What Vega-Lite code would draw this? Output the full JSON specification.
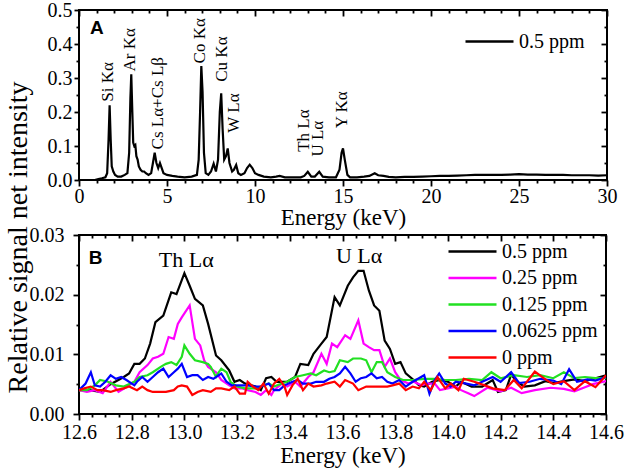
{
  "$schema": "https://vega.github.io/schema/vega-lite/v6.json",
  "padding": {"left": 2, "top": -1, "right": 5, "bottom": 5},
  "background": "white",
  "datasets": {
    "spec": [
      {"E":0.9,"v":0.0},{"E":1.1,"v":0.003},{"E":1.3,"v":0.005},{"E":1.5,"v":0.008},{"E":1.6,"v":0.02},{"E":1.68,"v":0.12},{"E":1.74,"v":0.22},{"E":1.8,"v":0.12},{"E":1.86,"v":0.04},{"E":1.95,"v":0.025},{"E":2.05,"v":0.015},{"E":2.2,"v":0.01},{"E":2.4,"v":0.01},{"E":2.6,"v":0.015},{"E":2.75,"v":0.02},{"E":2.85,"v":0.08},{"E":2.92,"v":0.24},{"E":2.97,"v":0.311},{"E":3.03,"v":0.2},{"E":3.08,"v":0.11},{"E":3.14,"v":0.1},{"E":3.2,"v":0.103},{"E":3.26,"v":0.07},{"E":3.33,"v":0.06},{"E":3.4,"v":0.04},{"E":3.5,"v":0.03},{"E":3.6,"v":0.025},{"E":3.7,"v":0.025},{"E":3.8,"v":0.02},{"E":3.95,"v":0.015},{"E":4.1,"v":0.02},{"E":4.2,"v":0.05},{"E":4.3,"v":0.08},{"E":4.4,"v":0.05},{"E":4.5,"v":0.035},{"E":4.6,"v":0.05},{"E":4.7,"v":0.035},{"E":4.8,"v":0.02},{"E":5.0,"v":0.015},{"E":5.3,"v":0.012},{"E":5.6,"v":0.01},{"E":6.0,"v":0.008},{"E":6.4,"v":0.01},{"E":6.7,"v":0.015},{"E":6.8,"v":0.06},{"E":6.88,"v":0.2},{"E":6.95,"v":0.335},{"E":7.02,"v":0.26},{"E":7.1,"v":0.08},{"E":7.2,"v":0.02},{"E":7.35,"v":0.015},{"E":7.5,"v":0.025},{"E":7.65,"v":0.048},{"E":7.78,"v":0.025},{"E":7.9,"v":0.06},{"E":8.0,"v":0.2},{"E":8.08,"v":0.255},{"E":8.16,"v":0.15},{"E":8.25,"v":0.06},{"E":8.35,"v":0.07},{"E":8.45,"v":0.093},{"E":8.55,"v":0.05},{"E":8.7,"v":0.025},{"E":8.8,"v":0.03},{"E":8.93,"v":0.044},{"E":9.05,"v":0.02},{"E":9.2,"v":0.015},{"E":9.4,"v":0.02},{"E":9.55,"v":0.035},{"E":9.7,"v":0.045},{"E":9.85,"v":0.035},{"E":10.0,"v":0.02},{"E":10.2,"v":0.015},{"E":10.5,"v":0.01},{"E":10.9,"v":0.008},{"E":11.2,"v":0.01},{"E":11.4,"v":0.012},{"E":11.7,"v":0.008},{"E":12.2,"v":0.008},{"E":12.6,"v":0.008},{"E":12.8,"v":0.012},{"E":13.0,"v":0.024},{"E":13.2,"v":0.01},{"E":13.4,"v":0.01},{"E":13.65,"v":0.024},{"E":13.85,"v":0.01},{"E":14.2,"v":0.008},{"E":14.6,"v":0.008},{"E":14.8,"v":0.03},{"E":14.92,"v":0.08},{"E":15.0,"v":0.093},{"E":15.1,"v":0.06},{"E":15.25,"v":0.015},{"E":15.4,"v":0.008},{"E":15.8,"v":0.008},{"E":16.2,"v":0.01},{"E":16.5,"v":0.012},{"E":16.8,"v":0.02},{"E":17.0,"v":0.014},{"E":17.3,"v":0.012},{"E":17.6,"v":0.009},{"E":18.0,"v":0.008},{"E":18.5,"v":0.009},{"E":19.0,"v":0.009},{"E":19.5,"v":0.01},{"E":20.0,"v":0.011},{"E":20.5,"v":0.012},{"E":21.0,"v":0.012},{"E":21.5,"v":0.013},{"E":22.0,"v":0.014},{"E":22.5,"v":0.015},{"E":23.0,"v":0.015},{"E":23.5,"v":0.015},{"E":24.0,"v":0.015},{"E":24.5,"v":0.016},{"E":25.0,"v":0.017},{"E":25.5,"v":0.016},{"E":26.0,"v":0.016},{"E":26.5,"v":0.015},{"E":27.0,"v":0.015},{"E":27.5,"v":0.015},{"E":28.0,"v":0.014},{"E":28.5,"v":0.014},{"E":29.0,"v":0.014},{"E":29.5,"v":0.013},{"E":30.0,"v":0.014}
    ],
    "peaks": [
      {"E":1.66,"v":0.23,"t":"Si Kα"},
      {"E":2.88,"v":0.319,"t":"Ar Kα"},
      {"E":4.49,"v":0.09,"t":"Cs Lα+Cs Lβ"},
      {"E":6.86,"v":0.343,"t":"Co Kα"},
      {"E":8.11,"v":0.289,"t":"Cu Kα"},
      {"E":8.83,"v":0.139,"t":"W Lα"},
      {"E":12.78,"v":0.083,"t":"Th Lα"},
      {"E":13.6,"v":0.069,"t":"U Lα"},
      {"E":14.92,"v":0.152,"t":"Y Kα"}
    ],
    "low": [
      {"c":"0.5 ppm","E":12.6,"v":0.004},{"c":"0.5 ppm","E":12.64,"v":0.004},{"c":"0.5 ppm","E":12.68,"v":0.0037},{"c":"0.5 ppm","E":12.72,"v":0.005},{"c":"0.5 ppm","E":12.77,"v":0.0062},{"c":"0.5 ppm","E":12.79,"v":0.0068},{"c":"0.5 ppm","E":12.81,"v":0.0084},{"c":"0.5 ppm","E":12.83,"v":0.0084},{"c":"0.5 ppm","E":12.85,"v":0.0093},{"c":"0.5 ppm","E":12.87,"v":0.0118},{"c":"0.5 ppm","E":12.89,"v":0.0154},{"c":"0.5 ppm","E":12.92,"v":0.0165},{"c":"0.5 ppm","E":12.95,"v":0.0204},{"c":"0.5 ppm","E":12.97,"v":0.0201},{"c":"0.5 ppm","E":13.0,"v":0.0236},{"c":"0.5 ppm","E":13.02,"v":0.0215},{"c":"0.5 ppm","E":13.04,"v":0.0193},{"c":"0.5 ppm","E":13.07,"v":0.0182},{"c":"0.5 ppm","E":13.09,"v":0.0151},{"c":"0.5 ppm","E":13.12,"v":0.0098},{"c":"0.5 ppm","E":13.14,"v":0.009},{"c":"0.5 ppm","E":13.17,"v":0.0073},{"c":"0.5 ppm","E":13.19,"v":0.0054},{"c":"0.5 ppm","E":13.21,"v":0.0057},{"c":"0.5 ppm","E":13.23,"v":0.0051},{"c":"0.5 ppm","E":13.27,"v":0.0046},{"c":"0.5 ppm","E":13.29,"v":0.004},{"c":"0.5 ppm","E":13.31,"v":0.006},{"c":"0.5 ppm","E":13.33,"v":0.0062},{"c":"0.5 ppm","E":13.35,"v":0.0054},{"c":"0.5 ppm","E":13.37,"v":0.0054},{"c":"0.5 ppm","E":13.39,"v":0.0054},{"c":"0.5 ppm","E":13.42,"v":0.0062},{"c":"0.5 ppm","E":13.44,"v":0.0084},{"c":"0.5 ppm","E":13.47,"v":0.0082},{"c":"0.5 ppm","E":13.49,"v":0.0101},{"c":"0.5 ppm","E":13.52,"v":0.0118},{"c":"0.5 ppm","E":13.54,"v":0.0129},{"c":"0.5 ppm","E":13.57,"v":0.0196},{"c":"0.5 ppm","E":13.59,"v":0.0182},{"c":"0.5 ppm","E":13.62,"v":0.0215},{"c":"0.5 ppm","E":13.64,"v":0.0229},{"c":"0.5 ppm","E":13.66,"v":0.024},{"c":"0.5 ppm","E":13.68,"v":0.024},{"c":"0.5 ppm","E":13.7,"v":0.0207},{"c":"0.5 ppm","E":13.72,"v":0.0182},{"c":"0.5 ppm","E":13.74,"v":0.0173},{"c":"0.5 ppm","E":13.76,"v":0.0123},{"c":"0.5 ppm","E":13.78,"v":0.0109},{"c":"0.5 ppm","E":13.8,"v":0.0084},{"c":"0.5 ppm","E":13.82,"v":0.0087},{"c":"0.5 ppm","E":13.84,"v":0.0068},{"c":"0.5 ppm","E":13.87,"v":0.0057},{"c":"0.5 ppm","E":13.89,"v":0.0048},{"c":"0.5 ppm","E":13.91,"v":0.0046},{"c":"0.5 ppm","E":13.94,"v":0.0054},{"c":"0.5 ppm","E":13.97,"v":0.0057},{"c":"0.5 ppm","E":14.0,"v":0.0054},{"c":"0.5 ppm","E":14.03,"v":0.0046},{"c":"0.5 ppm","E":14.05,"v":0.0054},{"c":"0.5 ppm","E":14.09,"v":0.0046},{"c":"0.5 ppm","E":14.13,"v":0.0046},{"c":"0.5 ppm","E":14.17,"v":0.0057},{"c":"0.5 ppm","E":14.19,"v":0.0037},{"c":"0.5 ppm","E":14.22,"v":0.004},{"c":"0.5 ppm","E":14.24,"v":0.0066},{"c":"0.5 ppm","E":14.26,"v":0.0055},{"c":"0.5 ppm","E":14.29,"v":0.0046},{"c":"0.5 ppm","E":14.33,"v":0.0048},{"c":"0.5 ppm","E":14.37,"v":0.0055},{"c":"0.5 ppm","E":14.4,"v":0.0052},{"c":"0.5 ppm","E":14.44,"v":0.0055},{"c":"0.5 ppm","E":14.48,"v":0.0058},{"c":"0.5 ppm","E":14.52,"v":0.0055},{"c":"0.5 ppm","E":14.56,"v":0.006},{"c":"0.5 ppm","E":14.6,"v":0.0065},
      {"c":"0.25 ppm","E":12.6,"v":0.004},{"c":"0.25 ppm","E":12.63,"v":0.0037},{"c":"0.25 ppm","E":12.66,"v":0.004},{"c":"0.25 ppm","E":12.69,"v":0.0035},{"c":"0.25 ppm","E":12.72,"v":0.0054},{"c":"0.25 ppm","E":12.75,"v":0.0037},{"c":"0.25 ppm","E":12.78,"v":0.0045},{"c":"0.25 ppm","E":12.81,"v":0.0054},{"c":"0.25 ppm","E":12.83,"v":0.007},{"c":"0.25 ppm","E":12.86,"v":0.0082},{"c":"0.25 ppm","E":12.88,"v":0.0093},{"c":"0.25 ppm","E":12.9,"v":0.0096},{"c":"0.25 ppm","E":12.92,"v":0.0101},{"c":"0.25 ppm","E":12.94,"v":0.0129},{"c":"0.25 ppm","E":12.96,"v":0.0126},{"c":"0.25 ppm","E":12.975,"v":0.0151},{"c":"0.25 ppm","E":12.99,"v":0.0162},{"c":"0.25 ppm","E":13.02,"v":0.0182},{"c":"0.25 ppm","E":13.04,"v":0.0126},{"c":"0.25 ppm","E":13.06,"v":0.0115},{"c":"0.25 ppm","E":13.075,"v":0.009},{"c":"0.25 ppm","E":13.09,"v":0.0079},{"c":"0.25 ppm","E":13.12,"v":0.007},{"c":"0.25 ppm","E":13.14,"v":0.0057},{"c":"0.25 ppm","E":13.17,"v":0.0048},{"c":"0.25 ppm","E":13.19,"v":0.0043},{"c":"0.25 ppm","E":13.22,"v":0.0043},{"c":"0.25 ppm","E":13.24,"v":0.004},{"c":"0.25 ppm","E":13.27,"v":0.0037},{"c":"0.25 ppm","E":13.29,"v":0.0032},{"c":"0.25 ppm","E":13.31,"v":0.004},{"c":"0.25 ppm","E":13.33,"v":0.0032},{"c":"0.25 ppm","E":13.34,"v":0.004},{"c":"0.25 ppm","E":13.37,"v":0.0051},{"c":"0.25 ppm","E":13.39,"v":0.0046},{"c":"0.25 ppm","E":13.42,"v":0.0054},{"c":"0.25 ppm","E":13.44,"v":0.0046},{"c":"0.25 ppm","E":13.47,"v":0.0062},{"c":"0.25 ppm","E":13.49,"v":0.007},{"c":"0.25 ppm","E":13.52,"v":0.0101},{"c":"0.25 ppm","E":13.54,"v":0.0084},{"c":"0.25 ppm","E":13.56,"v":0.0118},{"c":"0.25 ppm","E":13.58,"v":0.0112},{"c":"0.25 ppm","E":13.61,"v":0.0132},{"c":"0.25 ppm","E":13.63,"v":0.0126},{"c":"0.25 ppm","E":13.66,"v":0.0157},{"c":"0.25 ppm","E":13.68,"v":0.0118},{"c":"0.25 ppm","E":13.7,"v":0.0112},{"c":"0.25 ppm","E":13.72,"v":0.0107},{"c":"0.25 ppm","E":13.74,"v":0.0107},{"c":"0.25 ppm","E":13.76,"v":0.0079},{"c":"0.25 ppm","E":13.78,"v":0.0093},{"c":"0.25 ppm","E":13.8,"v":0.007},{"c":"0.25 ppm","E":13.82,"v":0.0057},{"c":"0.25 ppm","E":13.85,"v":0.0051},{"c":"0.25 ppm","E":13.87,"v":0.0054},{"c":"0.25 ppm","E":13.9,"v":0.0048},{"c":"0.25 ppm","E":13.92,"v":0.0051},{"c":"0.25 ppm","E":13.95,"v":0.0051},{"c":"0.25 ppm","E":13.97,"v":0.004},{"c":"0.25 ppm","E":14.0,"v":0.0043},{"c":"0.25 ppm","E":14.03,"v":0.0046},{"c":"0.25 ppm","E":14.05,"v":0.004},{"c":"0.25 ppm","E":14.075,"v":0.0035},{"c":"0.25 ppm","E":14.1,"v":0.003},{"c":"0.25 ppm","E":14.15,"v":0.0044},{"c":"0.25 ppm","E":14.2,"v":0.0038},{"c":"0.25 ppm","E":14.24,"v":0.0044},{"c":"0.25 ppm","E":14.28,"v":0.0035},{"c":"0.25 ppm","E":14.33,"v":0.004},{"c":"0.25 ppm","E":14.39,"v":0.0044},{"c":"0.25 ppm","E":14.44,"v":0.0042},{"c":"0.25 ppm","E":14.48,"v":0.0038},{"c":"0.25 ppm","E":14.52,"v":0.0045},{"c":"0.25 ppm","E":14.55,"v":0.005},{"c":"0.25 ppm","E":14.6,"v":0.0055},
      {"c":"0.125 ppm","E":12.6,"v":0.004},{"c":"0.125 ppm","E":12.63,"v":0.004},{"c":"0.125 ppm","E":12.66,"v":0.0048},{"c":"0.125 ppm","E":12.68,"v":0.0057},{"c":"0.125 ppm","E":12.71,"v":0.0054},{"c":"0.125 ppm","E":12.74,"v":0.0048},{"c":"0.125 ppm","E":12.77,"v":0.0046},{"c":"0.125 ppm","E":12.81,"v":0.0054},{"c":"0.125 ppm","E":12.83,"v":0.0062},{"c":"0.125 ppm","E":12.86,"v":0.0065},{"c":"0.125 ppm","E":12.88,"v":0.007},{"c":"0.125 ppm","E":12.91,"v":0.0079},{"c":"0.125 ppm","E":12.93,"v":0.0084},{"c":"0.125 ppm","E":12.95,"v":0.0087},{"c":"0.125 ppm","E":12.97,"v":0.0082},{"c":"0.125 ppm","E":12.99,"v":0.0096},{"c":"0.125 ppm","E":13.0,"v":0.0115},{"c":"0.125 ppm","E":13.02,"v":0.0101},{"c":"0.125 ppm","E":13.04,"v":0.009},{"c":"0.125 ppm","E":13.07,"v":0.0087},{"c":"0.125 ppm","E":13.09,"v":0.0084},{"c":"0.125 ppm","E":13.1,"v":0.0079},{"c":"0.125 ppm","E":13.12,"v":0.0062},{"c":"0.125 ppm","E":13.13,"v":0.007},{"c":"0.125 ppm","E":13.14,"v":0.0076},{"c":"0.125 ppm","E":13.16,"v":0.007},{"c":"0.125 ppm","E":13.175,"v":0.0054},{"c":"0.125 ppm","E":13.2,"v":0.0046},{"c":"0.125 ppm","E":13.23,"v":0.0043},{"c":"0.125 ppm","E":13.27,"v":0.0043},{"c":"0.125 ppm","E":13.29,"v":0.0046},{"c":"0.125 ppm","E":13.32,"v":0.0051},{"c":"0.125 ppm","E":13.34,"v":0.0046},{"c":"0.125 ppm","E":13.37,"v":0.0051},{"c":"0.125 ppm","E":13.39,"v":0.0054},{"c":"0.125 ppm","E":13.42,"v":0.0062},{"c":"0.125 ppm","E":13.45,"v":0.0065},{"c":"0.125 ppm","E":13.48,"v":0.0068},{"c":"0.125 ppm","E":13.5,"v":0.0065},{"c":"0.125 ppm","E":13.53,"v":0.0073},{"c":"0.125 ppm","E":13.55,"v":0.007},{"c":"0.125 ppm","E":13.57,"v":0.0072},{"c":"0.125 ppm","E":13.59,"v":0.009},{"c":"0.125 ppm","E":13.62,"v":0.0087},{"c":"0.125 ppm","E":13.64,"v":0.0093},{"c":"0.125 ppm","E":13.67,"v":0.0093},{"c":"0.125 ppm","E":13.69,"v":0.009},{"c":"0.125 ppm","E":13.71,"v":0.007},{"c":"0.125 ppm","E":13.73,"v":0.0087},{"c":"0.125 ppm","E":13.75,"v":0.0087},{"c":"0.125 ppm","E":13.77,"v":0.007},{"c":"0.125 ppm","E":13.8,"v":0.0062},{"c":"0.125 ppm","E":13.83,"v":0.0057},{"c":"0.125 ppm","E":13.87,"v":0.0057},{"c":"0.125 ppm","E":13.91,"v":0.0059},{"c":"0.125 ppm","E":13.95,"v":0.0059},{"c":"0.125 ppm","E":13.99,"v":0.0057},{"c":"0.125 ppm","E":14.03,"v":0.0057},{"c":"0.125 ppm","E":14.08,"v":0.0059},{"c":"0.125 ppm","E":14.13,"v":0.0057},{"c":"0.125 ppm","E":14.165,"v":0.007},{"c":"0.125 ppm","E":14.2,"v":0.006},{"c":"0.125 ppm","E":14.25,"v":0.0065},{"c":"0.125 ppm","E":14.3,"v":0.0062},{"c":"0.125 ppm","E":14.35,"v":0.0065},{"c":"0.125 ppm","E":14.4,"v":0.006},{"c":"0.125 ppm","E":14.44,"v":0.007},{"c":"0.125 ppm","E":14.48,"v":0.006},{"c":"0.125 ppm","E":14.52,"v":0.0062},{"c":"0.125 ppm","E":14.56,"v":0.006},{"c":"0.125 ppm","E":14.6,"v":0.006},
      {"c":"0.0625 ppm","E":12.6,"v":0.004},{"c":"0.0625 ppm","E":12.625,"v":0.0051},{"c":"0.0625 ppm","E":12.645,"v":0.007},{"c":"0.0625 ppm","E":12.66,"v":0.0048},{"c":"0.0625 ppm","E":12.68,"v":0.0046},{"c":"0.0625 ppm","E":12.7,"v":0.0054},{"c":"0.0625 ppm","E":12.72,"v":0.0065},{"c":"0.0625 ppm","E":12.74,"v":0.0059},{"c":"0.0625 ppm","E":12.76,"v":0.0062},{"c":"0.0625 ppm","E":12.78,"v":0.0057},{"c":"0.0625 ppm","E":12.81,"v":0.0048},{"c":"0.0625 ppm","E":12.82,"v":0.0054},{"c":"0.0625 ppm","E":12.84,"v":0.0062},{"c":"0.0625 ppm","E":12.86,"v":0.0054},{"c":"0.0625 ppm","E":12.88,"v":0.0062},{"c":"0.0625 ppm","E":12.9,"v":0.007},{"c":"0.0625 ppm","E":12.92,"v":0.0076},{"c":"0.0625 ppm","E":12.94,"v":0.0062},{"c":"0.0625 ppm","E":12.96,"v":0.007},{"c":"0.0625 ppm","E":12.975,"v":0.0076},{"c":"0.0625 ppm","E":12.99,"v":0.0084},{"c":"0.0625 ppm","E":13.01,"v":0.0062},{"c":"0.0625 ppm","E":13.03,"v":0.0065},{"c":"0.0625 ppm","E":13.05,"v":0.0065},{"c":"0.0625 ppm","E":13.07,"v":0.0057},{"c":"0.0625 ppm","E":13.09,"v":0.0062},{"c":"0.0625 ppm","E":13.11,"v":0.0059},{"c":"0.0625 ppm","E":13.13,"v":0.0065},{"c":"0.0625 ppm","E":13.14,"v":0.0068},{"c":"0.0625 ppm","E":13.16,"v":0.0054},{"c":"0.0625 ppm","E":13.18,"v":0.0048},{"c":"0.0625 ppm","E":13.21,"v":0.0048},{"c":"0.0625 ppm","E":13.24,"v":0.0048},{"c":"0.0625 ppm","E":13.27,"v":0.0046},{"c":"0.0625 ppm","E":13.29,"v":0.0046},{"c":"0.0625 ppm","E":13.32,"v":0.0051},{"c":"0.0625 ppm","E":13.34,"v":0.004},{"c":"0.0625 ppm","E":13.36,"v":0.004},{"c":"0.0625 ppm","E":13.38,"v":0.0048},{"c":"0.0625 ppm","E":13.41,"v":0.0054},{"c":"0.0625 ppm","E":13.43,"v":0.0057},{"c":"0.0625 ppm","E":13.45,"v":0.0051},{"c":"0.0625 ppm","E":13.48,"v":0.0051},{"c":"0.0625 ppm","E":13.5,"v":0.0054},{"c":"0.0625 ppm","E":13.53,"v":0.0054},{"c":"0.0625 ppm","E":13.55,"v":0.0059},{"c":"0.0625 ppm","E":13.57,"v":0.0062},{"c":"0.0625 ppm","E":13.59,"v":0.0068},{"c":"0.0625 ppm","E":13.61,"v":0.0079},{"c":"0.0625 ppm","E":13.63,"v":0.0068},{"c":"0.0625 ppm","E":13.65,"v":0.0054},{"c":"0.0625 ppm","E":13.67,"v":0.006},{"c":"0.0625 ppm","E":13.69,"v":0.0062},{"c":"0.0625 ppm","E":13.71,"v":0.0068},{"c":"0.0625 ppm","E":13.73,"v":0.006},{"c":"0.0625 ppm","E":13.75,"v":0.0062},{"c":"0.0625 ppm","E":13.77,"v":0.0054},{"c":"0.0625 ppm","E":13.79,"v":0.0051},{"c":"0.0625 ppm","E":13.815,"v":0.0057},{"c":"0.0625 ppm","E":13.84,"v":0.0046},{"c":"0.0625 ppm","E":13.866,"v":0.0054},{"c":"0.0625 ppm","E":13.89,"v":0.006},{"c":"0.0625 ppm","E":13.91,"v":0.0065},{"c":"0.0625 ppm","E":13.93,"v":0.0034},{"c":"0.0625 ppm","E":13.95,"v":0.0057},{"c":"0.0625 ppm","E":13.967,"v":0.0068},{"c":"0.0625 ppm","E":13.99,"v":0.0051},{"c":"0.0625 ppm","E":14.01,"v":0.0046},{"c":"0.0625 ppm","E":14.03,"v":0.0054},{"c":"0.0625 ppm","E":14.07,"v":0.0051},{"c":"0.0625 ppm","E":14.1,"v":0.0048},{"c":"0.0625 ppm","E":14.13,"v":0.0054},{"c":"0.0625 ppm","E":14.17,"v":0.0062},{"c":"0.0625 ppm","E":14.2,"v":0.0054},{"c":"0.0625 ppm","E":14.24,"v":0.007},{"c":"0.0625 ppm","E":14.27,"v":0.0052},{"c":"0.0625 ppm","E":14.31,"v":0.0054},{"c":"0.0625 ppm","E":14.35,"v":0.0059},{"c":"0.0625 ppm","E":14.4,"v":0.0056},{"c":"0.0625 ppm","E":14.43,"v":0.005},{"c":"0.0625 ppm","E":14.46,"v":0.0075},{"c":"0.0625 ppm","E":14.49,"v":0.0054},{"c":"0.0625 ppm","E":14.53,"v":0.0058},{"c":"0.0625 ppm","E":14.56,"v":0.0056},{"c":"0.0625 ppm","E":14.6,"v":0.0062},
      {"c":"0 ppm","E":12.6,"v":0.004},{"c":"0 ppm","E":12.62,"v":0.0043},{"c":"0 ppm","E":12.645,"v":0.0046},{"c":"0 ppm","E":12.67,"v":0.004},{"c":"0 ppm","E":12.69,"v":0.004},{"c":"0 ppm","E":12.72,"v":0.0037},{"c":"0 ppm","E":12.74,"v":0.004},{"c":"0 ppm","E":12.77,"v":0.0043},{"c":"0 ppm","E":12.79,"v":0.0046},{"c":"0 ppm","E":12.82,"v":0.004},{"c":"0 ppm","E":12.84,"v":0.0046},{"c":"0 ppm","E":12.86,"v":0.004},{"c":"0 ppm","E":12.88,"v":0.0037},{"c":"0 ppm","E":12.91,"v":0.0037},{"c":"0 ppm","E":12.93,"v":0.0037},{"c":"0 ppm","E":12.96,"v":0.004},{"c":"0 ppm","E":12.975,"v":0.0046},{"c":"0 ppm","E":12.99,"v":0.0048},{"c":"0 ppm","E":13.01,"v":0.0046},{"c":"0 ppm","E":13.03,"v":0.0032},{"c":"0 ppm","E":13.05,"v":0.0037},{"c":"0 ppm","E":13.07,"v":0.004},{"c":"0 ppm","E":13.1,"v":0.0037},{"c":"0 ppm","E":13.12,"v":0.0043},{"c":"0 ppm","E":13.14,"v":0.0043},{"c":"0 ppm","E":13.17,"v":0.004},{"c":"0 ppm","E":13.19,"v":0.0046},{"c":"0 ppm","E":13.21,"v":0.0034},{"c":"0 ppm","E":13.23,"v":0.0034},{"c":"0 ppm","E":13.24,"v":0.0054},{"c":"0 ppm","E":13.26,"v":0.0046},{"c":"0 ppm","E":13.28,"v":0.004},{"c":"0 ppm","E":13.3,"v":0.0051},{"c":"0 ppm","E":13.32,"v":0.0034},{"c":"0 ppm","E":13.34,"v":0.0051},{"c":"0 ppm","E":13.36,"v":0.0059},{"c":"0 ppm","E":13.38,"v":0.0046},{"c":"0 ppm","E":13.39,"v":0.0032},{"c":"0 ppm","E":13.41,"v":0.0048},{"c":"0 ppm","E":13.43,"v":0.0059},{"c":"0 ppm","E":13.45,"v":0.004},{"c":"0 ppm","E":13.47,"v":0.0051},{"c":"0 ppm","E":13.49,"v":0.0046},{"c":"0 ppm","E":13.52,"v":0.0048},{"c":"0 ppm","E":13.54,"v":0.0051},{"c":"0 ppm","E":13.57,"v":0.0054},{"c":"0 ppm","E":13.59,"v":0.0046},{"c":"0 ppm","E":13.61,"v":0.0057},{"c":"0 ppm","E":13.64,"v":0.0051},{"c":"0 ppm","E":13.66,"v":0.004},{"c":"0 ppm","E":13.69,"v":0.0046},{"c":"0 ppm","E":13.72,"v":0.0046},{"c":"0 ppm","E":13.74,"v":0.0046},{"c":"0 ppm","E":13.77,"v":0.0046},{"c":"0 ppm","E":13.79,"v":0.0048},{"c":"0 ppm","E":13.815,"v":0.0051},{"c":"0 ppm","E":13.84,"v":0.004},{"c":"0 ppm","E":13.866,"v":0.0046},{"c":"0 ppm","E":13.89,"v":0.0043},{"c":"0 ppm","E":13.91,"v":0.0054},{"c":"0 ppm","E":13.935,"v":0.004},{"c":"0 ppm","E":13.96,"v":0.0062},{"c":"0 ppm","E":13.99,"v":0.0043},{"c":"0 ppm","E":14.01,"v":0.0051},{"c":"0 ppm","E":14.04,"v":0.004},{"c":"0 ppm","E":14.06,"v":0.0059},{"c":"0 ppm","E":14.1,"v":0.0054},{"c":"0 ppm","E":14.14,"v":0.0048},{"c":"0 ppm","E":14.17,"v":0.0043},{"c":"0 ppm","E":14.216,"v":0.004},{"c":"0 ppm","E":14.25,"v":0.0057},{"c":"0 ppm","E":14.28,"v":0.0043},{"c":"0 ppm","E":14.3,"v":0.0054},{"c":"0 ppm","E":14.33,"v":0.0071},{"c":"0 ppm","E":14.37,"v":0.0058},{"c":"0 ppm","E":14.4,"v":0.005},{"c":"0 ppm","E":14.44,"v":0.0055},{"c":"0 ppm","E":14.48,"v":0.004},{"c":"0 ppm","E":14.52,"v":0.0055},{"c":"0 ppm","E":14.56,"v":0.0045},{"c":"0 ppm","E":14.6,"v":0.0065}
    ],
    "labB": [
      {"E":13.007,"v":0.0258,"t":"Th Lα"},
      {"E":13.663,"v":0.0264,"t":"U Lα"}
    ],
    "tagA": [{"E":1.02,"v":0.447,"t":"A"}],
    "tagB": [{"E":12.663,"v":0.0261,"t":"B"}]
  },
  "vconcat": [
    {
      "width": 528,
      "height": 170,
      "resolve": {"axis": {"x": "independent", "y": "independent"}},
      "layer": [
        {
          "data": {"name": "spec"},
          "mark": {"type": "line", "strokeWidth": 2.2, "clip": true},
          "encoding": {
            "x": {"field": "E", "type": "quantitative", "scale": {"domain": [0, 30], "nice": false, "zero": false},
              "axis": {"orient": "bottom", "values": [0,5,10,15,20,25,30], "format": "d", "tickSize": 6, "labelPadding": 0, "labelFont": "Liberation Serif", "labelFontSize": 20, "title": "Energy (keV)", "titleFontSize": 23, "titleBaseline": "alphabetic", "titleY": 44}},
            "y": {"field": "v", "type": "quantitative", "scale": {"domain": [0, 0.5], "nice": false, "zero": false},
              "axis": {"orient": "left", "values": [0,0.1,0.2,0.3,0.4,0.5], "format": ".1f", "tickSize": 5, "labelPadding": 2, "labelFont": "Liberation Serif", "labelFontSize": 20, "title": "Relative signal net intensity", "titleFontSize": 28, "titleAngle": 270, "titleAlign": "center", "titleBaseline": "alphabetic", "titleX": -53, "titleY": 227}},
            "color": {"datum": "0.5 ppm", "type": "nominal", "scale": {"range": ["black"]},
              "legend": {"orient": "none", "legendX": 409, "legendY": 18, "title": null, "symbolType": "M-3,0H1", "symbolSize": 576, "symbolStrokeWidth": 2.5, "labelFont": "Liberation Serif", "labelFontSize": 20, "labelOffset": 4, "padding": 0}}
          }
        },
        {
          "data": {"name": "spec"},
          "mark": {"type": "point", "opacity": 0},
          "encoding": {
            "x": {"field": "E", "type": "quantitative", "scale": {"domain": [0, 30], "nice": false, "zero": false},
              "axis": {"orient": "bottom", "values": [1,2,3,4,6,7,8,9,11,12,13,14,16,17,18,19,21,22,23,24,26,27,28,29], "labels": false, "title": null, "tickSize": 3}},
            "y": {"field": "v", "type": "quantitative", "scale": {"domain": [0, 0.5], "nice": false, "zero": false},
              "axis": {"orient": "left", "values": [0.05,0.15,0.25,0.35,0.45], "labels": false, "title": null, "tickSize": 3}}
          }
        },
        {
          "data": {"name": "spec"},
          "mark": {"type": "point", "opacity": 0},
          "encoding": {
            "x": {"field": "E", "type": "quantitative", "scale": {"domain": [0, 30], "nice": false, "zero": false},
              "axis": {"orient": "top", "values": [0,5,10,15,20,25,30], "labels": false, "title": null, "tickSize": 6, "offset": -6}},
            "y": {"field": "v", "type": "quantitative", "scale": {"domain": [0, 0.5], "nice": false, "zero": false},
              "axis": {"orient": "right", "values": [0,0.1,0.2,0.3,0.4,0.5], "labels": false, "title": null, "tickSize": 6, "offset": -6}}
          }
        },
        {
          "data": {"name": "spec"},
          "mark": {"type": "point", "opacity": 0},
          "encoding": {
            "x": {"field": "E", "type": "quantitative", "scale": {"domain": [0, 30], "nice": false, "zero": false},
              "axis": {"orient": "top", "values": [1,2,3,4,6,7,8,9,11,12,13,14,16,17,18,19,21,22,23,24,26,27,28,29], "labels": false, "title": null, "tickSize": 3, "offset": -3}},
            "y": {"field": "v", "type": "quantitative", "scale": {"domain": [0, 0.5], "nice": false, "zero": false},
              "axis": {"orient": "right", "values": [0.05,0.15,0.25,0.35,0.45], "labels": false, "title": null, "tickSize": 3, "offset": -3}}
          }
        },
        {
          "data": {"name": "peaks"},
          "mark": {"type": "text", "angle": 270, "align": "left", "baseline": "middle", "fontSize": 17, "font": "Liberation Serif", "color": "black"},
          "encoding": {
            "x": {"field": "E", "type": "quantitative", "scale": {"domain": [0, 30], "nice": false, "zero": false}, "axis": null},
            "y": {"field": "v", "type": "quantitative", "scale": {"domain": [0, 0.5], "nice": false, "zero": false}, "axis": null},
            "text": {"field": "t"}
          }
        },
        {
          "data": {"name": "tagA"},
          "mark": {"type": "text", "align": "center", "baseline": "middle", "fontSize": 19, "font": "Liberation Sans", "fontWeight": "bold", "color": "black"},
          "encoding": {
            "x": {"field": "E", "type": "quantitative", "scale": {"domain": [0, 30], "nice": false, "zero": false}, "axis": null},
            "y": {"field": "v", "type": "quantitative", "scale": {"domain": [0, 0.5], "nice": false, "zero": false}, "axis": null},
            "text": {"field": "t"}
          }
        }
      ]
    },
    {
      "width": 527,
      "height": 179,
      "resolve": {"axis": {"x": "independent", "y": "independent"}},
      "layer": [
        {
          "data": {"name": "low"},
          "mark": {"type": "line", "strokeWidth": 2.2, "clip": true},
          "encoding": {
            "x": {"field": "E", "type": "quantitative", "scale": {"domain": [12.6, 14.6], "nice": false, "zero": false},
              "axis": {"orient": "bottom", "values": [12.6,12.8,13.0,13.2,13.4,13.6,13.8,14.0,14.2,14.4,14.6], "format": ".1f", "tickSize": 6, "labelPadding": 2, "labelFont": "Liberation Serif", "labelFontSize": 20, "title": "Energy (keV)", "titleFontSize": 23, "titleBaseline": "alphabetic", "titleY": 48}},
            "y": {"field": "v", "type": "quantitative", "scale": {"domain": [0, 0.03], "nice": false, "zero": false},
              "axis": {"orient": "left", "values": [0,0.01,0.02,0.03], "format": ".2f", "tickSize": 6, "labelPadding": 9, "labelFont": "Liberation Serif", "labelFontSize": 20, "title": null}},
            "color": {"field": "c", "type": "nominal",
              "scale": {"domain": ["0.5 ppm","0.25 ppm","0.125 ppm","0.0625 ppm","0 ppm"], "range": ["#000000","#ff00ff","#22e022","#0000ff","#ff0000"]},
              "sort": ["0.5 ppm","0.25 ppm","0.125 ppm","0.0625 ppm","0 ppm"],
              "legend": {"orient": "none", "legendX": 392, "legendY": 3, "title": null, "symbolType": "M-3,0H1", "symbolSize": 576, "symbolStrokeWidth": 2.5, "labelFont": "Liberation Serif", "labelFontSize": 20, "labelOffset": 4, "padding": 0, "rowPadding": 2.5}}
          }
        },
        {
          "data": {"name": "low"},
          "mark": {"type": "point", "opacity": 0},
          "encoding": {
            "x": {"field": "E", "type": "quantitative", "scale": {"domain": [12.6, 14.6], "nice": false, "zero": false},
              "axis": {"orient": "bottom", "values": [12.65,12.7,12.75,12.85,12.9,12.95,13.05,13.1,13.15,13.25,13.3,13.35,13.45,13.5,13.55,13.65,13.7,13.75,13.85,13.9,13.95,14.05,14.1,14.15,14.25,14.3,14.35,14.45,14.5,14.55], "labels": false, "title": null, "tickSize": 3}},
            "y": {"field": "v", "type": "quantitative", "scale": {"domain": [0, 0.03], "nice": false, "zero": false},
              "axis": {"orient": "left", "values": [0.005,0.015,0.025], "labels": false, "title": null, "tickSize": 3}}
          }
        },
        {
          "data": {"name": "low"},
          "mark": {"type": "point", "opacity": 0},
          "encoding": {
            "x": {"field": "E", "type": "quantitative", "scale": {"domain": [12.6, 14.6], "nice": false, "zero": false},
              "axis": {"orient": "top", "values": [12.6,12.8,13.0,13.2,13.4,13.6,13.8,14.0,14.2,14.4,14.6], "labels": false, "title": null, "tickSize": 6, "offset": -6}},
            "y": {"field": "v", "type": "quantitative", "scale": {"domain": [0, 0.03], "nice": false, "zero": false},
              "axis": {"orient": "right", "values": [0,0.01,0.02,0.03], "labels": false, "title": null, "tickSize": 6, "offset": -6}}
          }
        },
        {
          "data": {"name": "low"},
          "mark": {"type": "point", "opacity": 0},
          "encoding": {
            "x": {"field": "E", "type": "quantitative", "scale": {"domain": [12.6, 14.6], "nice": false, "zero": false},
              "axis": {"orient": "top", "values": [12.65,12.7,12.75,12.85,12.9,12.95,13.05,13.1,13.15,13.25,13.3,13.35,13.45,13.5,13.55,13.65,13.7,13.75,13.85,13.9,13.95,14.05,14.1,14.15,14.25,14.3,14.35,14.45,14.5,14.55], "labels": false, "title": null, "tickSize": 3, "offset": -3}},
            "y": {"field": "v", "type": "quantitative", "scale": {"domain": [0, 0.03], "nice": false, "zero": false},
              "axis": {"orient": "right", "values": [0.005,0.015,0.025], "labels": false, "title": null, "tickSize": 3, "offset": -3}}
          }
        },
        {
          "data": {"name": "labB"},
          "mark": {"type": "text", "align": "center", "baseline": "middle", "fontSize": 22, "font": "Liberation Serif", "color": "black"},
          "encoding": {
            "x": {"field": "E", "type": "quantitative", "scale": {"domain": [12.6, 14.6], "nice": false, "zero": false}, "axis": null},
            "y": {"field": "v", "type": "quantitative", "scale": {"domain": [0, 0.03], "nice": false, "zero": false}, "axis": null},
            "text": {"field": "t"}
          }
        },
        {
          "data": {"name": "tagB"},
          "mark": {"type": "text", "align": "center", "baseline": "middle", "fontSize": 19, "font": "Liberation Sans", "fontWeight": "bold", "color": "black"},
          "encoding": {
            "x": {"field": "E", "type": "quantitative", "scale": {"domain": [12.6, 14.6], "nice": false, "zero": false}, "axis": null},
            "y": {"field": "v", "type": "quantitative", "scale": {"domain": [0, 0.03], "nice": false, "zero": false}, "axis": null},
            "text": {"field": "t"}
          }
        }
      ]
    }
  ],
  "spacing": 55,
  "bounds": "flush",
  "resolve": {"scale": {"color": "independent"}, "legend": {"color": "independent"}},
  "config": {
    "font": "Liberation Serif",
    "view": {"stroke": "black", "strokeWidth": 2},
    "style": {"guide-label": {"font": "Liberation Serif", "fill": "black"}, "guide-title": {"font": "Liberation Serif", "fill": "black"}},
    "axis": {"domain": false, "grid": false, "labelFont": "Liberation Serif", "labelFontSize": 20, "labelColor": "black", "titleFont": "Liberation Serif", "titleFontWeight": "normal", "titleColor": "black", "tickColor": "black", "tickWidth": 1.8, "labelFlush": false, "labelOverlap": false},
    "legend": {"labelFont": "Liberation Serif", "labelColor": "black", "labelFontSize": 20}
  }
}
